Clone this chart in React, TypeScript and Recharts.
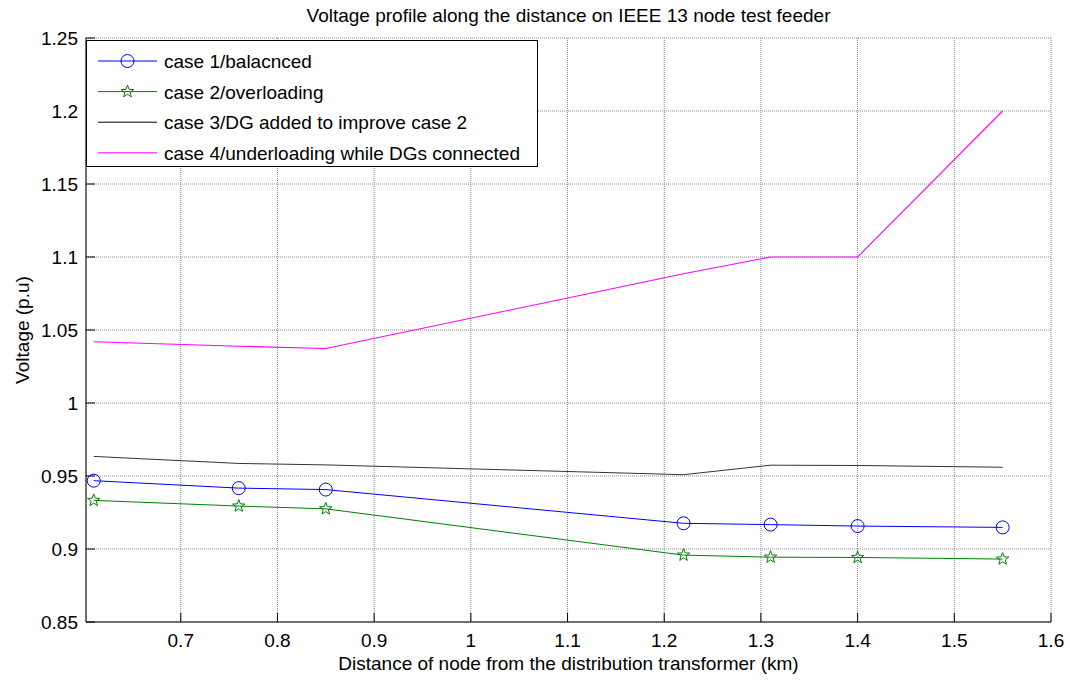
import { LineChart, Line, XAxis, YAxis, CartesianGrid, Legend } from "recharts";

const distanceKm = [0.61, 0.76, 0.85, 1.22, 1.31, 1.4, 1.55];
const case1Balanced = [0.9468, 0.9417, 0.9407, 0.9176, 0.9167, 0.9157, 0.9148];
const case2Overloading = [0.9333, 0.9294, 0.9275, 0.8958, 0.8944, 0.8942, 0.8931];
const case3WithDG = [0.9634, 0.9586, 0.9576, 0.9509, 0.9574, 0.9572, 0.956];
const case4Underloading = [1.042, 1.0389, 1.0373, 1.0885, 1.1, 1.1, 1.2];

const seriesNames = [
  "case 1/balacnced",
  "case 2/overloading",
  "case 3/DG added to improve case 2",
  "case 4/underloading while DGs connected",
];
const seriesColors = ["#0000ff", "#008000", "#000000", "#ff00ff"];

const xTicks = [0.7, 0.8, 0.9, 1, 1.1, 1.2, 1.3, 1.4, 1.5, 1.6];
const yTicks = [0.85, 0.9, 0.95, 1, 1.05, 1.1, 1.15, 1.2, 1.25];

const chartTitle = "Voltage profile along the distance on IEEE 13 node test feeder";
const xLabel = "Distance of node from the distribution transformer (km)";
const yLabel = "Voltage (p.u)";

const chartData = distanceKm.map((d, i) => ({
  d,
  c1: case1Balanced[i],
  c2: case2Overloading[i],
  c3: case3WithDG[i],
  c4: case4Underloading[i],
}));

const FONT = "'Liberation Sans', Arial, sans-serif";
const FS = 19;
const tickStyle = { fill: "#000", fontSize: FS, fontFamily: FONT };

function starPoints(cx: number, cy: number, ro: number, ri: number) {
  const pts: string[] = [];
  for (let k = 0; k < 10; k++) {
    const r = k % 2 === 0 ? ro : ri;
    const a = -Math.PI / 2 + (k * Math.PI) / 5;
    pts.push(`${cx + r * Math.cos(a)},${cy + r * Math.sin(a)}`);
  }
  return pts.join(" ");
}

const CircleDot = (props: any) => {
  const { cx, cy, key } = props;
  if (cx == null || cy == null) return null;
  return <circle key={key} cx={cx} cy={cy} r={6.5} fill="none" stroke="#0000ff" strokeWidth={1} />;
};

const StarDot = (props: any) => {
  const { cx, cy, key } = props;
  if (cx == null || cy == null) return null;
  return <polygon key={key} points={starPoints(cx, cy, 6.5, 2.7)} fill="none" stroke="#008000" strokeWidth={1} />;
};

function LegendBox() {
  return (
    <svg width={452} height={127} style={{ display: "block" }}>
      <rect x={0.5} y={0.5} width={451} height={126} fill="#fff" stroke="#000" strokeWidth={1} />
      {seriesNames.map((name, i) => {
        const y = 21 + i * 30.6;
        return (
          <g key={name}>
            <line x1={12} x2={71} y1={y} y2={y} stroke={seriesColors[i]} strokeWidth={1} />
            {i === 0 && <circle cx={41.5} cy={y} r={6.5} fill="none" stroke="#0000ff" />}
            {i === 1 && <polygon points={starPoints(41.5, y, 6.5, 2.7)} fill="none" stroke="#008000" />}
            <text x={78} y={y + 7} fontSize={FS} fontFamily={FONT} fill="#000">
              {name}
            </text>
          </g>
        );
      })}
    </svg>
  );
}

export default function App() {
  return (
    <div style={{ position: "absolute", left: 0, top: 0, width: 1070, height: 680, background: "#fff" }}>
      <div
        style={{
          position: "absolute",
          left: 86,
          width: 965,
          top: 2,
          textAlign: "center",
          fontFamily: FONT,
          fontSize: FS,
          lineHeight: "28px",
          color: "#000",
          whiteSpace: "nowrap",
        }}
      >
        {chartTitle}
      </div>
      <LineChart width={1070} height={680} data={chartData} margin={{ top: 38, right: 19, bottom: 0, left: 0 }}>
        <CartesianGrid stroke="#8a8a8a" strokeDasharray="1 1" />
        <XAxis
          dataKey="d"
          type="number"
          domain={[0.602, 1.6]}
          allowDataOverflow
          ticks={xTicks}
          height={58}
          tick={tickStyle}
          tickSize={-9}
          tickMargin={21}
          stroke="#000"
          label={{
            value: xLabel,
            position: "insideBottom",
            offset: 10,
            style: { fill: "#000", fontSize: FS, fontFamily: FONT },
          }}
        />
        <XAxis
          xAxisId="top"
          dataKey="d"
          type="number"
          orientation="top"
          domain={[0.602, 1.6]}
          allowDataOverflow
          ticks={xTicks}
          height={0}
          tick={false}
          tickSize={-9}
          stroke="#000"
        />
        <YAxis
          type="number"
          domain={[0.85, 1.25]}
          allowDataOverflow
          ticks={yTicks}
          width={86}
          tick={tickStyle}
          tickSize={-9}
          tickMargin={17}
          stroke="#000"
          label={{
            value: yLabel,
            angle: -90,
            position: "insideLeft",
            offset: 22,
            style: { fill: "#000", fontSize: FS, fontFamily: FONT, textAnchor: "middle" },
          }}
        />
        <YAxis
          yAxisId="right"
          type="number"
          orientation="right"
          domain={[0.85, 1.25]}
          allowDataOverflow
          ticks={yTicks}
          width={0}
          tick={false}
          tickSize={-9}
          stroke="#000"
        />
        <Legend
          layout="vertical"
          align="center"
          verticalAlign="middle"
          content={() => <LegendBox />}
          wrapperStyle={{ left: 86, top: 40, width: 452, height: 127 }}
        />
        <Line dataKey="c1" name={seriesNames[0]} stroke="#0000ff" strokeWidth={1} dot={CircleDot} activeDot={false} isAnimationActive={false} />
        <Line dataKey="c2" name={seriesNames[1]} stroke="#008000" strokeWidth={1} dot={StarDot} activeDot={false} isAnimationActive={false} />
        <Line dataKey="c3" name={seriesNames[2]} stroke="#000000" strokeWidth={0.8} dot={false} activeDot={false} isAnimationActive={false} />
        <Line dataKey="c4" name={seriesNames[3]} stroke="#ff00ff" strokeWidth={1.1} dot={false} activeDot={false} isAnimationActive={false} />
      </LineChart>
    </div>
  );
}
